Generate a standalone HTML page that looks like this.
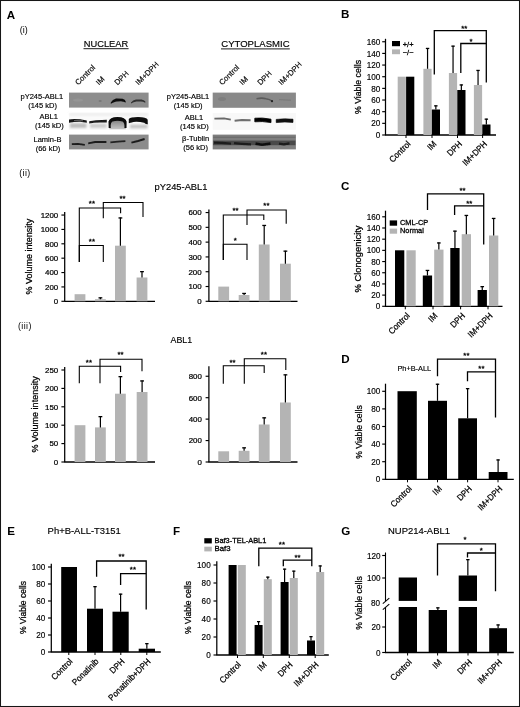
<!DOCTYPE html>
<html><head><meta charset="utf-8"><title>Figure</title>
<style>
html,body{margin:0;padding:0;background:#fff;}
body{width:520px;height:707px;overflow:hidden;font-family:"Liberation Sans",sans-serif;}
svg{display:block;font-family:"Liberation Sans",sans-serif;fill:#000;}
text{stroke:#000;stroke-width:0.16px;}
text[font-weight=bold]{stroke-width:0;}
</style></head><body>
<svg width="520" height="707" viewBox="0 0 520 707">
<defs>
<filter id="b1" x="-20%" y="-50%" width="140%" height="200%"><feGaussianBlur stdDeviation="0.7"/></filter>
<filter id="b2" x="-20%" y="-50%" width="140%" height="200%"><feGaussianBlur stdDeviation="1.2"/></filter>
<filter id="b05" x="-20%" y="-50%" width="140%" height="200%"><feGaussianBlur stdDeviation="0.45"/></filter>
<radialGradient id="blob" gradientUnits="userSpaceOnUse" cx="118.4" cy="126.4" r="10.5">
<stop offset="0" stop-color="#909090"/><stop offset="0.45" stop-color="#6c6c6c"/><stop offset="0.72" stop-color="#2a2a2a"/><stop offset="1" stop-color="#050505"/></radialGradient>
<linearGradient id="blobin" x1="0" y1="0" x2="0" y2="1">
<stop offset="0" stop-color="#6a6a6a"/><stop offset="0.5" stop-color="#9c9c9c"/><stop offset="1" stop-color="#c4c4c4"/></linearGradient>
<filter id="soft" x="0" y="0" width="100%" height="100%" filterUnits="userSpaceOnUse"><feGaussianBlur stdDeviation="0.32"/></filter>
</defs>
<rect x="0" y="0" width="520" height="707" fill="#fff"/>
<g id="fig" filter="url(#soft)">
<text x="6.80" y="19.00" font-size="11.6" text-anchor="start" font-weight="bold">A</text>
<text x="341.00" y="18.20" font-size="11.6" text-anchor="start" font-weight="bold">B</text>
<text x="341.00" y="190.20" font-size="11.6" text-anchor="start" font-weight="bold">C</text>
<text x="341.30" y="363.20" font-size="11.6" text-anchor="start" font-weight="bold">D</text>
<text x="7.30" y="535.20" font-size="11.6" text-anchor="start" font-weight="bold">E</text>
<text x="173.00" y="535.20" font-size="11.6" text-anchor="start" font-weight="bold">F</text>
<text x="341.30" y="535.20" font-size="11.6" text-anchor="start" font-weight="bold">G</text>
<text x="19.80" y="33.30" font-size="9" text-anchor="start" font-weight="normal" style="stroke-width:0">(i)</text>
<text x="19.30" y="176.20" font-size="8.8" text-anchor="start" font-weight="normal" style="stroke-width:0;letter-spacing:0.35px">(ii)</text>
<text x="18.00" y="329.00" font-size="8.8" text-anchor="start" font-weight="normal" style="stroke-width:0;letter-spacing:0.4px">(iii)</text>
<text x="106.00" y="46.80" font-size="9.4" text-anchor="middle" font-weight="normal" textLength="44.50" lengthAdjust="spacingAndGlyphs">NUCLEAR</text>
<line x1="83.50" y1="48.70" x2="128.60" y2="48.70" stroke="#000" stroke-width="0.9"/>
<text x="255.40" y="46.80" font-size="9.4" text-anchor="middle" font-weight="normal" textLength="68.30" lengthAdjust="spacingAndGlyphs">CYTOPLASMIC</text>
<line x1="221.00" y1="48.90" x2="289.80" y2="48.90" stroke="#000" stroke-width="0.9"/>
<text x="78.20" y="85.60" font-size="7.7" text-anchor="start" font-weight="normal" transform="rotate(-45 78.20 85.60)">Control</text>
<text x="99.00" y="85.60" font-size="7.7" text-anchor="start" font-weight="normal" transform="rotate(-45 99.00 85.60)">IM</text>
<text x="117.60" y="85.60" font-size="7.7" text-anchor="start" font-weight="normal" transform="rotate(-45 117.60 85.60)">DPH</text>
<text x="138.60" y="85.60" font-size="7.7" text-anchor="start" font-weight="normal" transform="rotate(-45 138.60 85.60)">IM+DPH</text>
<text x="222.20" y="85.60" font-size="7.7" text-anchor="start" font-weight="normal" transform="rotate(-45 222.20 85.60)">Control</text>
<text x="242.60" y="85.60" font-size="7.7" text-anchor="start" font-weight="normal" transform="rotate(-45 242.60 85.60)">IM</text>
<text x="260.60" y="85.60" font-size="7.7" text-anchor="start" font-weight="normal" transform="rotate(-45 260.60 85.60)">DPH</text>
<text x="281.60" y="85.60" font-size="7.7" text-anchor="start" font-weight="normal" transform="rotate(-45 281.60 85.60)">IM+DPH</text>
<text x="41.80" y="98.90" font-size="7.5" text-anchor="middle" font-weight="normal">pY245-ABL1</text>
<text x="42.60" y="107.80" font-size="7.5" text-anchor="middle" font-weight="normal">(145 kD)</text>
<text x="48.80" y="119.00" font-size="7.5" text-anchor="middle" font-weight="normal">ABL1</text>
<text x="49.40" y="128.40" font-size="7.5" text-anchor="middle" font-weight="normal">(145 kD)</text>
<text x="47.50" y="142.20" font-size="7.5" text-anchor="middle" font-weight="normal">Lamin-B</text>
<text x="48.00" y="151.40" font-size="7.5" text-anchor="middle" font-weight="normal">(66 kD)</text>
<text x="188.00" y="98.90" font-size="7.5" text-anchor="middle" font-weight="normal">pY245-ABL1</text>
<text x="188.20" y="107.80" font-size="7.5" text-anchor="middle" font-weight="normal">(145 kD)</text>
<text x="194.00" y="119.70" font-size="7.5" text-anchor="middle" font-weight="normal">ABL1</text>
<text x="194.40" y="129.00" font-size="7.5" text-anchor="middle" font-weight="normal">(145 kD)</text>
<text x="195.60" y="140.70" font-size="7.5" text-anchor="middle" font-weight="normal">β-Tublin</text>
<text x="195.60" y="149.80" font-size="7.5" text-anchor="middle" font-weight="normal">(56 kD)</text>
<g id="blotN">
<rect x="69.00" y="92.60" width="79.60" height="15.00" fill="#8d8d8d"/>
<g filter="url(#b1)">
<path d="M110.8,102.4 Q112.5,99.5 116,98.5 L122.6,98.7 Q125,99.4 125.8,101.4 L125.6,102.6 Q123.5,101.4 121,101.3 L116.4,101.4 Q113,102.0 110.8,103.8 Z" fill="#0c0c0c"/>
<path d="M131.0,102.4 Q133,100.0 136,99.5 L141.5,99.6 Q144,100.2 145.4,101.6 L145.2,102.8 Q143,101.6 141,101.5 L136.4,101.5 Q133.4,102.0 131.0,103.6 Z" fill="#303030"/>
<ellipse cx="100.2" cy="101" rx="1.6" ry="1" fill="#777"/>
<ellipse cx="78" cy="100" rx="5" ry="1.6" fill="#959595"/>
</g>
<rect x="69.00" y="113.00" width="79.60" height="17.00" fill="#fafafa"/>
<g filter="url(#b2)">
<rect x="70.00" y="123.20" width="16.50" height="4.80" fill="#bdbdbd"/>
<rect x="90.00" y="123.60" width="16.50" height="4.40" fill="#cccccc"/>
<rect x="130.00" y="124.60" width="17.50" height="3.80" fill="#c2c2c2"/>
<rect x="69.50" y="113.60" width="78.50" height="1.60" fill="#e6e6e6"/>
</g>
<g filter="url(#b1)">
<path d="M69.0,119.6 L74,118.9 L80,119.2 L86.8,120.4 L86.8,122.8 L80,121.8 L74,122.0 L69.0,122.8 Z" fill="#161616"/>
<path d="M74,120.6 L83,120.8" stroke="#6a6a6a" stroke-width="1.0" fill="none"/>
<path d="M89.2,121.2 L96,120.2 L102,119.9 L106.8,119.7 L106.8,122.4 L100,122.6 L94,122.7 L89.2,123.6 Z" fill="#1a1a1a"/>
<path d="M109.4,129.2 L109.4,121 Q110.6,118.0 117.5,117.8 Q124.8,117.8 125.8,121 L125.8,129.2 Z" fill="url(#blobin)"/>
<path d="M108.7,128.0 L108.5,121.5 Q109.6,117.1 117.5,116.9 Q125.6,117.0 126.6,121.5 L126.5,128.0 L124.4,128.0 Q124.9,123.0 122.6,121.6 Q117.5,119.9 112.4,121.6 Q110.2,123.0 110.8,128.0 Z" fill="#0a0a0a"/>
<path d="M128.8,119.0 Q130.6,117.2 138,117.1 Q146.4,117.3 147.7,119.8 L147.8,124.2 Q145.4,124.6 144.2,122.8 Q138.5,121.5 133.5,122.0 L128.8,123.2 Z" fill="#0b0b0b"/>
</g>
<rect x="69.00" y="134.60" width="79.60" height="14.80" fill="#8b8b8b"/>
<g filter="url(#b05)">
<path d="M71.8,144.2 L78,143.8 L84.8,144.8" stroke="#1c1c1c" stroke-width="1.8" fill="none"/>
<path d="M88.2,143.4 L95,142.0 L106.4,142.0" stroke="#1c1c1c" stroke-width="1.8" fill="none"/>
<path d="M110.4,142.4 L118,141.6 L125.4,141.2" stroke="#222" stroke-width="1.7" fill="none"/>
<path d="M131.4,142.6 L138,141.0 L144.6,139.0" stroke="#1c1c1c" stroke-width="1.9" fill="none"/>
</g>
</g>
<g id="blotC">
<rect x="212.70" y="92.60" width="83.20" height="15.20" fill="#898989"/>
<g filter="url(#b1)">
<path d="M256.5,98.8 Q262,97.4 266,98.8 Q270,99.4 271.8,101.0" stroke="#5c5c5c" stroke-width="1.6" fill="none"/>
<circle cx="272" cy="101.2" r="1.1" fill="#222"/>
<ellipse cx="222" cy="99" rx="4" ry="2" fill="#7e7e7e"/>
<path d="M279,99.6 L291,100.2" stroke="#7c7c7c" stroke-width="1.4" fill="none"/>
</g>
<rect x="212.70" y="113.00" width="83.20" height="16.80" fill="#f8f8f8"/>
<g filter="url(#b1)">
<path d="M214.4,118.6 L224,118.4 L230.8,119.6" stroke="#6a6a6a" stroke-width="1.9" fill="none"/>
<path d="M234.6,120.8 L242,120.0 L250.6,120.3" stroke="#6e6e6e" stroke-width="1.9" fill="none"/>
<path d="M254.8,118.2 Q262,117.4 271.0,119.2 L271.0,122.6 Q262,121.0 254.8,121.8 Z" fill="#050505" stroke="#050505" stroke-width="0.8"/>
<path d="M276.2,119.4 Q284,118.4 293.0,119.2 L293.0,122.4 Q284,121.6 276.2,122.6 Z" fill="#080808" stroke="#080808" stroke-width="0.6"/>
</g>
<rect x="212.70" y="134.60" width="83.20" height="14.80" fill="#7f7f7f"/>
<g filter="url(#b1)">
<rect x="213.20" y="140.60" width="82.20" height="4.60" fill="#484848"/>
<path d="M214,142.6 L222,142.8 L231,143.6" stroke="#1e1e1e" stroke-width="2.2" fill="none"/>
<path d="M234,143.2 L242,143.8 L251,144.4" stroke="#1e1e1e" stroke-width="2.2" fill="none"/>
<path d="M255.5,143.6 L262,144.8 L270.5,143.6" stroke="#111" stroke-width="2.6" fill="none"/>
<path d="M279,143.6 L284,144.4 L289.5,143.4" stroke="#1a1a1a" stroke-width="2.2" fill="none"/>
<rect x="213.20" y="136.60" width="82.20" height="1.40" fill="#6e6e6e"/>
</g>
</g>
<text x="181.00" y="190.30" font-size="9.4" text-anchor="middle" font-weight="normal" textLength="53.00" lengthAdjust="spacingAndGlyphs">pY245-ABL1</text>
<line x1="64.70" y1="212.00" x2="64.70" y2="301.30" stroke="#000" stroke-width="1.25"/>
<line x1="61.40" y1="301.30" x2="64.70" y2="301.30" stroke="#000" stroke-width="1.15"/>
<text x="58.20" y="304.14" font-size="7.9" text-anchor="end" font-weight="normal" style="stroke-width:0.24px">0</text>
<line x1="61.40" y1="286.93" x2="64.70" y2="286.93" stroke="#000" stroke-width="1.15"/>
<text x="58.20" y="289.77" font-size="7.9" text-anchor="end" font-weight="normal" style="stroke-width:0.24px">200</text>
<line x1="61.40" y1="272.55" x2="64.70" y2="272.55" stroke="#000" stroke-width="1.15"/>
<text x="58.20" y="275.39" font-size="7.9" text-anchor="end" font-weight="normal" style="stroke-width:0.24px">400</text>
<line x1="61.40" y1="258.18" x2="64.70" y2="258.18" stroke="#000" stroke-width="1.15"/>
<text x="58.20" y="261.02" font-size="7.9" text-anchor="end" font-weight="normal" style="stroke-width:0.24px">600</text>
<line x1="61.40" y1="243.80" x2="64.70" y2="243.80" stroke="#000" stroke-width="1.15"/>
<text x="58.20" y="246.64" font-size="7.9" text-anchor="end" font-weight="normal" style="stroke-width:0.24px">800</text>
<line x1="61.40" y1="229.43" x2="64.70" y2="229.43" stroke="#000" stroke-width="1.15"/>
<text x="58.20" y="232.27" font-size="7.9" text-anchor="end" font-weight="normal" style="stroke-width:0.24px">1000</text>
<line x1="61.40" y1="215.05" x2="64.70" y2="215.05" stroke="#000" stroke-width="1.15"/>
<text x="58.20" y="217.89" font-size="7.9" text-anchor="end" font-weight="normal" style="stroke-width:0.24px">1200</text>
<line x1="64.20" y1="301.30" x2="155.00" y2="301.30" stroke="#000" stroke-width="1.3"/>
<rect x="74.60" y="294.20" width="10.80" height="7.10" fill="#b4b4b4"/>
<rect x="95.00" y="299.20" width="10.80" height="2.10" fill="#b4b4b4"/>
<line x1="100.40" y1="299.20" x2="100.40" y2="297.40" stroke="#000" stroke-width="1.2"/>
<line x1="98.50" y1="297.85" x2="102.30" y2="297.85" stroke="#000" stroke-width="1.3"/>
<rect x="115.00" y="245.70" width="10.80" height="55.60" fill="#b4b4b4"/>
<line x1="120.40" y1="245.70" x2="120.40" y2="217.50" stroke="#000" stroke-width="1.2"/>
<line x1="118.50" y1="217.95" x2="122.30" y2="217.95" stroke="#000" stroke-width="1.3"/>
<rect x="136.60" y="277.50" width="10.80" height="23.80" fill="#b4b4b4"/>
<line x1="142.00" y1="277.50" x2="142.00" y2="271.20" stroke="#000" stroke-width="1.2"/>
<line x1="140.10" y1="271.65" x2="143.90" y2="271.65" stroke="#000" stroke-width="1.3"/>
<polyline points="79.30,262.00 79.30,208.00 120.60,208.00 120.60,213.30" fill="none" stroke="#000" stroke-width="1.1"/>
<polyline points="103.30,218.30 103.30,202.50 143.00,202.50 143.00,217.00" fill="none" stroke="#000" stroke-width="1.1"/>
<polyline points="79.30,262.00 79.30,245.50 103.30,245.50 103.30,262.00" fill="none" stroke="#000" stroke-width="1.1"/>
<text x="91.90" y="206.47" font-size="7.8" text-anchor="middle" font-weight="normal" style="stroke-width:0.3px">**</text>
<text x="122.60" y="201.47" font-size="7.8" text-anchor="middle" font-weight="normal" style="stroke-width:0.3px">**</text>
<text x="91.90" y="244.07" font-size="7.8" text-anchor="middle" font-weight="normal" style="stroke-width:0.3px">**</text>
<text x="32.11" y="256.60" font-size="8.7" text-anchor="middle" transform="rotate(-90 32.11 256.60)" textLength="75.80" lengthAdjust="spacingAndGlyphs" style="stroke-width:0.26px">% Volume intensity</text>
<line x1="208.90" y1="209.50" x2="208.90" y2="301.30" stroke="#000" stroke-width="1.25"/>
<line x1="205.60" y1="301.30" x2="208.90" y2="301.30" stroke="#000" stroke-width="1.15"/>
<text x="201.60" y="304.14" font-size="7.9" text-anchor="end" font-weight="normal" style="stroke-width:0.24px">0</text>
<line x1="205.60" y1="286.51" x2="208.90" y2="286.51" stroke="#000" stroke-width="1.15"/>
<text x="201.60" y="289.35" font-size="7.9" text-anchor="end" font-weight="normal" style="stroke-width:0.24px">100</text>
<line x1="205.60" y1="271.72" x2="208.90" y2="271.72" stroke="#000" stroke-width="1.15"/>
<text x="201.60" y="274.56" font-size="7.9" text-anchor="end" font-weight="normal" style="stroke-width:0.24px">200</text>
<line x1="205.60" y1="256.93" x2="208.90" y2="256.93" stroke="#000" stroke-width="1.15"/>
<text x="201.60" y="259.77" font-size="7.9" text-anchor="end" font-weight="normal" style="stroke-width:0.24px">300</text>
<line x1="205.60" y1="242.13" x2="208.90" y2="242.13" stroke="#000" stroke-width="1.15"/>
<text x="201.60" y="244.98" font-size="7.9" text-anchor="end" font-weight="normal" style="stroke-width:0.24px">400</text>
<line x1="205.60" y1="227.34" x2="208.90" y2="227.34" stroke="#000" stroke-width="1.15"/>
<text x="201.60" y="230.19" font-size="7.9" text-anchor="end" font-weight="normal" style="stroke-width:0.24px">500</text>
<line x1="205.60" y1="212.55" x2="208.90" y2="212.55" stroke="#000" stroke-width="1.15"/>
<text x="201.60" y="215.39" font-size="7.9" text-anchor="end" font-weight="normal" style="stroke-width:0.24px">600</text>
<line x1="208.40" y1="301.30" x2="297.50" y2="301.30" stroke="#000" stroke-width="1.3"/>
<rect x="218.30" y="286.60" width="10.80" height="14.70" fill="#b4b4b4"/>
<rect x="238.70" y="295.00" width="10.80" height="6.30" fill="#b4b4b4"/>
<line x1="244.10" y1="295.00" x2="244.10" y2="293.00" stroke="#000" stroke-width="1.2"/>
<line x1="242.20" y1="293.45" x2="246.00" y2="293.45" stroke="#000" stroke-width="1.3"/>
<rect x="258.80" y="244.50" width="10.80" height="56.80" fill="#b4b4b4"/>
<line x1="264.20" y1="244.50" x2="264.20" y2="225.00" stroke="#000" stroke-width="1.2"/>
<line x1="262.30" y1="225.45" x2="266.10" y2="225.45" stroke="#000" stroke-width="1.3"/>
<rect x="280.00" y="263.70" width="10.80" height="37.60" fill="#b4b4b4"/>
<line x1="285.40" y1="263.70" x2="285.40" y2="250.70" stroke="#000" stroke-width="1.2"/>
<line x1="283.50" y1="251.15" x2="287.30" y2="251.15" stroke="#000" stroke-width="1.3"/>
<polyline points="223.30,260.00 223.30,215.00 263.80,215.00 263.80,220.00" fill="none" stroke="#000" stroke-width="1.1"/>
<polyline points="247.00,225.00 247.00,210.00 286.20,210.00 286.20,223.70" fill="none" stroke="#000" stroke-width="1.1"/>
<polyline points="223.30,260.00 223.30,244.30 247.00,244.30 247.00,260.00" fill="none" stroke="#000" stroke-width="1.1"/>
<text x="235.60" y="213.47" font-size="7.8" text-anchor="middle" font-weight="normal" style="stroke-width:0.3px">**</text>
<text x="266.40" y="208.27" font-size="7.8" text-anchor="middle" font-weight="normal" style="stroke-width:0.3px">**</text>
<text x="235.20" y="242.67" font-size="7.8" text-anchor="middle" font-weight="normal" style="stroke-width:0.3px">*</text>
<text x="181.30" y="343.00" font-size="9.4" text-anchor="middle" font-weight="normal" textLength="21.60" lengthAdjust="spacingAndGlyphs">ABL1</text>
<line x1="64.70" y1="367.00" x2="64.70" y2="462.00" stroke="#000" stroke-width="1.25"/>
<line x1="61.40" y1="462.00" x2="64.70" y2="462.00" stroke="#000" stroke-width="1.15"/>
<text x="58.20" y="464.84" font-size="7.9" text-anchor="end" font-weight="normal" style="stroke-width:0.24px">0</text>
<line x1="61.40" y1="443.60" x2="64.70" y2="443.60" stroke="#000" stroke-width="1.15"/>
<text x="58.20" y="446.44" font-size="7.9" text-anchor="end" font-weight="normal" style="stroke-width:0.24px">50</text>
<line x1="61.40" y1="425.20" x2="64.70" y2="425.20" stroke="#000" stroke-width="1.15"/>
<text x="58.20" y="428.04" font-size="7.9" text-anchor="end" font-weight="normal" style="stroke-width:0.24px">100</text>
<line x1="61.40" y1="406.80" x2="64.70" y2="406.80" stroke="#000" stroke-width="1.15"/>
<text x="58.20" y="409.64" font-size="7.9" text-anchor="end" font-weight="normal" style="stroke-width:0.24px">150</text>
<line x1="61.40" y1="388.40" x2="64.70" y2="388.40" stroke="#000" stroke-width="1.15"/>
<text x="58.20" y="391.24" font-size="7.9" text-anchor="end" font-weight="normal" style="stroke-width:0.24px">200</text>
<line x1="61.40" y1="370.00" x2="64.70" y2="370.00" stroke="#000" stroke-width="1.15"/>
<text x="58.20" y="372.84" font-size="7.9" text-anchor="end" font-weight="normal" style="stroke-width:0.24px">250</text>
<line x1="64.20" y1="462.00" x2="155.00" y2="462.00" stroke="#000" stroke-width="1.3"/>
<rect x="74.60" y="425.20" width="10.80" height="36.80" fill="#b4b4b4"/>
<rect x="95.00" y="427.40" width="10.80" height="34.60" fill="#b4b4b4"/>
<line x1="100.40" y1="427.40" x2="100.40" y2="416.20" stroke="#000" stroke-width="1.2"/>
<line x1="98.50" y1="416.65" x2="102.30" y2="416.65" stroke="#000" stroke-width="1.3"/>
<rect x="115.00" y="393.70" width="10.80" height="68.30" fill="#b4b4b4"/>
<line x1="120.40" y1="393.70" x2="120.40" y2="376.20" stroke="#000" stroke-width="1.2"/>
<line x1="118.50" y1="376.65" x2="122.30" y2="376.65" stroke="#000" stroke-width="1.3"/>
<rect x="136.70" y="392.00" width="10.80" height="70.00" fill="#b4b4b4"/>
<line x1="142.10" y1="392.00" x2="142.10" y2="380.50" stroke="#000" stroke-width="1.2"/>
<line x1="140.20" y1="380.95" x2="144.00" y2="380.95" stroke="#000" stroke-width="1.3"/>
<polyline points="79.30,383.20 79.30,366.20 120.60,366.20 120.60,372.00" fill="none" stroke="#000" stroke-width="1.1"/>
<polyline points="100.00,383.20 100.00,359.20 142.00,359.20 142.00,371.20" fill="none" stroke="#000" stroke-width="1.1"/>
<text x="88.90" y="364.67" font-size="7.8" text-anchor="middle" font-weight="normal" style="stroke-width:0.3px">**</text>
<text x="120.60" y="357.27" font-size="7.8" text-anchor="middle" font-weight="normal" style="stroke-width:0.3px">**</text>
<text x="37.61" y="414.40" font-size="8.7" text-anchor="middle" transform="rotate(-90 37.61 414.40)" textLength="76.20" lengthAdjust="spacingAndGlyphs" style="stroke-width:0.26px">% Volume intensity</text>
<line x1="208.90" y1="366.20" x2="208.90" y2="462.00" stroke="#000" stroke-width="1.25"/>
<line x1="205.60" y1="462.00" x2="208.90" y2="462.00" stroke="#000" stroke-width="1.15"/>
<text x="201.80" y="464.84" font-size="7.9" text-anchor="end" font-weight="normal" style="stroke-width:0.24px">0</text>
<line x1="205.60" y1="440.56" x2="208.90" y2="440.56" stroke="#000" stroke-width="1.15"/>
<text x="201.80" y="443.41" font-size="7.9" text-anchor="end" font-weight="normal" style="stroke-width:0.24px">200</text>
<line x1="205.60" y1="419.12" x2="208.90" y2="419.12" stroke="#000" stroke-width="1.15"/>
<text x="201.80" y="421.97" font-size="7.9" text-anchor="end" font-weight="normal" style="stroke-width:0.24px">400</text>
<line x1="205.60" y1="397.69" x2="208.90" y2="397.69" stroke="#000" stroke-width="1.15"/>
<text x="201.80" y="400.53" font-size="7.9" text-anchor="end" font-weight="normal" style="stroke-width:0.24px">600</text>
<line x1="205.60" y1="376.25" x2="208.90" y2="376.25" stroke="#000" stroke-width="1.15"/>
<text x="201.80" y="379.09" font-size="7.9" text-anchor="end" font-weight="normal" style="stroke-width:0.24px">800</text>
<line x1="208.40" y1="462.00" x2="297.50" y2="462.00" stroke="#000" stroke-width="1.3"/>
<rect x="218.30" y="451.30" width="10.80" height="10.70" fill="#b4b4b4"/>
<rect x="238.70" y="450.80" width="10.80" height="11.20" fill="#b4b4b4"/>
<line x1="244.10" y1="450.80" x2="244.10" y2="447.40" stroke="#000" stroke-width="1.2"/>
<line x1="242.20" y1="447.85" x2="246.00" y2="447.85" stroke="#000" stroke-width="1.3"/>
<rect x="258.80" y="424.50" width="10.80" height="37.50" fill="#b4b4b4"/>
<line x1="264.20" y1="424.50" x2="264.20" y2="417.40" stroke="#000" stroke-width="1.2"/>
<line x1="262.30" y1="417.85" x2="266.10" y2="417.85" stroke="#000" stroke-width="1.3"/>
<rect x="280.00" y="402.50" width="10.80" height="59.50" fill="#b4b4b4"/>
<line x1="285.40" y1="402.50" x2="285.40" y2="374.40" stroke="#000" stroke-width="1.2"/>
<line x1="283.50" y1="374.85" x2="287.30" y2="374.85" stroke="#000" stroke-width="1.3"/>
<polyline points="223.30,383.70 223.30,365.80 264.20,365.80 264.20,373.00" fill="none" stroke="#000" stroke-width="1.1"/>
<polyline points="244.30,383.70 244.30,358.80 285.80,358.80 285.80,370.00" fill="none" stroke="#000" stroke-width="1.1"/>
<text x="232.60" y="364.67" font-size="7.8" text-anchor="middle" font-weight="normal" style="stroke-width:0.3px">**</text>
<text x="263.90" y="357.27" font-size="7.8" text-anchor="middle" font-weight="normal" style="stroke-width:0.3px">**</text>
<line x1="385.50" y1="38.80" x2="385.50" y2="135.00" stroke="#000" stroke-width="1.25"/>
<line x1="382.20" y1="135.00" x2="385.50" y2="135.00" stroke="#000" stroke-width="1.15"/>
<text transform="translate(380.30 138.12) scale(0.93 1)" font-size="8.8" text-anchor="end">0</text>
<line x1="382.20" y1="123.34" x2="385.50" y2="123.34" stroke="#000" stroke-width="1.15"/>
<text transform="translate(380.30 126.47) scale(0.93 1)" font-size="8.8" text-anchor="end">20</text>
<line x1="382.20" y1="111.69" x2="385.50" y2="111.69" stroke="#000" stroke-width="1.15"/>
<text transform="translate(380.30 114.81) scale(0.93 1)" font-size="8.8" text-anchor="end">40</text>
<line x1="382.20" y1="100.03" x2="385.50" y2="100.03" stroke="#000" stroke-width="1.15"/>
<text transform="translate(380.30 103.16) scale(0.93 1)" font-size="8.8" text-anchor="end">60</text>
<line x1="382.20" y1="88.38" x2="385.50" y2="88.38" stroke="#000" stroke-width="1.15"/>
<text transform="translate(380.30 91.50) scale(0.93 1)" font-size="8.8" text-anchor="end">80</text>
<line x1="382.20" y1="76.72" x2="385.50" y2="76.72" stroke="#000" stroke-width="1.15"/>
<text transform="translate(380.30 79.84) scale(0.93 1)" font-size="8.8" text-anchor="end">100</text>
<line x1="382.20" y1="65.06" x2="385.50" y2="65.06" stroke="#000" stroke-width="1.15"/>
<text transform="translate(380.30 68.19) scale(0.93 1)" font-size="8.8" text-anchor="end">120</text>
<line x1="382.20" y1="53.41" x2="385.50" y2="53.41" stroke="#000" stroke-width="1.15"/>
<text transform="translate(380.30 56.53) scale(0.93 1)" font-size="8.8" text-anchor="end">140</text>
<line x1="382.20" y1="41.75" x2="385.50" y2="41.75" stroke="#000" stroke-width="1.15"/>
<text transform="translate(380.30 44.87) scale(0.93 1)" font-size="8.8" text-anchor="end">160</text>
<line x1="385.00" y1="135.00" x2="496.00" y2="135.00" stroke="#000" stroke-width="1.3"/>
<line x1="406.00" y1="135.00" x2="406.00" y2="138.00" stroke="#000" stroke-width="1.0"/>
<line x1="432.00" y1="135.00" x2="432.00" y2="138.00" stroke="#000" stroke-width="1.0"/>
<line x1="457.50" y1="135.00" x2="457.50" y2="138.00" stroke="#000" stroke-width="1.0"/>
<line x1="482.60" y1="135.00" x2="482.60" y2="138.00" stroke="#000" stroke-width="1.0"/>
<rect x="397.70" y="76.70" width="8.20" height="58.30" fill="#b4b4b4"/>
<rect x="406.10" y="76.70" width="8.20" height="58.30" fill="#000"/>
<rect x="423.40" y="68.80" width="8.20" height="66.20" fill="#b4b4b4"/>
<rect x="431.80" y="109.50" width="8.20" height="25.50" fill="#000"/>
<line x1="427.55" y1="68.80" x2="427.55" y2="48.00" stroke="#000" stroke-width="1.2"/>
<line x1="425.85" y1="48.45" x2="429.25" y2="48.45" stroke="#000" stroke-width="1.3"/>
<line x1="435.85" y1="109.50" x2="435.85" y2="105.40" stroke="#000" stroke-width="1.2"/>
<line x1="434.15" y1="105.85" x2="437.55" y2="105.85" stroke="#000" stroke-width="1.3"/>
<rect x="448.90" y="73.00" width="8.20" height="62.00" fill="#b4b4b4"/>
<rect x="457.30" y="90.00" width="8.20" height="45.00" fill="#000"/>
<line x1="453.05" y1="73.00" x2="453.05" y2="45.70" stroke="#000" stroke-width="1.2"/>
<line x1="451.35" y1="46.15" x2="454.75" y2="46.15" stroke="#000" stroke-width="1.3"/>
<line x1="461.35" y1="90.00" x2="461.35" y2="84.50" stroke="#000" stroke-width="1.2"/>
<line x1="459.65" y1="84.95" x2="463.05" y2="84.95" stroke="#000" stroke-width="1.3"/>
<rect x="473.90" y="85.00" width="8.20" height="50.00" fill="#b4b4b4"/>
<rect x="482.30" y="124.50" width="8.20" height="10.50" fill="#000"/>
<line x1="478.05" y1="85.00" x2="478.05" y2="70.00" stroke="#000" stroke-width="1.2"/>
<line x1="476.35" y1="70.45" x2="479.75" y2="70.45" stroke="#000" stroke-width="1.3"/>
<line x1="486.35" y1="124.50" x2="486.35" y2="118.70" stroke="#000" stroke-width="1.2"/>
<line x1="484.65" y1="119.15" x2="488.05" y2="119.15" stroke="#000" stroke-width="1.3"/>
<polyline points="434.30,74.50 434.30,30.70 486.30,30.70 486.30,82.50" fill="none" stroke="#000" stroke-width="1.3"/>
<polyline points="460.80,73.00 460.80,43.50 486.30,43.50 486.30,43.50" fill="none" stroke="#000" stroke-width="1.3"/>
<text x="464.30" y="31.07" font-size="7.8" text-anchor="middle" font-weight="normal" style="stroke-width:0.3px">**</text>
<text x="471.00" y="44.07" font-size="7.8" text-anchor="middle" font-weight="normal" style="stroke-width:0.3px">*</text>
<rect x="392.00" y="41.00" width="8.00" height="5.20" fill="#000"/>
<rect x="392.00" y="49.40" width="8.00" height="4.80" fill="#b4b4b4"/>
<text x="402.80" y="46.80" font-size="7.4" text-anchor="start" font-weight="normal" style="stroke-width:0.3px">+/+</text>
<text x="402.80" y="54.60" font-size="7.4" text-anchor="start" font-weight="normal" style="stroke-width:0.3px">−/−</text>
<text transform="translate(411.10 144.50) rotate(-45) scale(0.93 1)" font-size="8.7" text-anchor="end" style="stroke-width:0.24px">Control</text>
<text transform="translate(437.10 144.50) rotate(-45) scale(0.93 1)" font-size="8.7" text-anchor="end" style="stroke-width:0.24px">IM</text>
<text transform="translate(462.60 144.50) rotate(-45) scale(0.93 1)" font-size="8.7" text-anchor="end" style="stroke-width:0.24px">DPH</text>
<text transform="translate(487.70 144.50) rotate(-45) scale(0.93 1)" font-size="8.7" text-anchor="end" style="stroke-width:0.24px">IM+DPH</text>
<text x="360.61" y="87.00" font-size="8.7" text-anchor="middle" transform="rotate(-90 360.61 87.00)" textLength="54.00" lengthAdjust="spacingAndGlyphs" style="stroke-width:0.26px">% Viable cells</text>
<line x1="385.50" y1="210.70" x2="385.50" y2="306.30" stroke="#000" stroke-width="1.25"/>
<line x1="382.20" y1="306.30" x2="385.50" y2="306.30" stroke="#000" stroke-width="1.15"/>
<text transform="translate(380.30 309.42) scale(0.93 1)" font-size="8.8" text-anchor="end">0</text>
<line x1="382.20" y1="295.11" x2="385.50" y2="295.11" stroke="#000" stroke-width="1.15"/>
<text transform="translate(380.30 298.24) scale(0.93 1)" font-size="8.8" text-anchor="end">20</text>
<line x1="382.20" y1="283.93" x2="385.50" y2="283.93" stroke="#000" stroke-width="1.15"/>
<text transform="translate(380.30 287.05) scale(0.93 1)" font-size="8.8" text-anchor="end">40</text>
<line x1="382.20" y1="272.74" x2="385.50" y2="272.74" stroke="#000" stroke-width="1.15"/>
<text transform="translate(380.30 275.86) scale(0.93 1)" font-size="8.8" text-anchor="end">60</text>
<line x1="382.20" y1="261.55" x2="385.50" y2="261.55" stroke="#000" stroke-width="1.15"/>
<text transform="translate(380.30 264.67) scale(0.93 1)" font-size="8.8" text-anchor="end">80</text>
<line x1="382.20" y1="250.36" x2="385.50" y2="250.36" stroke="#000" stroke-width="1.15"/>
<text transform="translate(380.30 253.49) scale(0.93 1)" font-size="8.8" text-anchor="end">100</text>
<line x1="382.20" y1="239.18" x2="385.50" y2="239.18" stroke="#000" stroke-width="1.15"/>
<text transform="translate(380.30 242.30) scale(0.93 1)" font-size="8.8" text-anchor="end">120</text>
<line x1="382.20" y1="227.99" x2="385.50" y2="227.99" stroke="#000" stroke-width="1.15"/>
<text transform="translate(380.30 231.11) scale(0.93 1)" font-size="8.8" text-anchor="end">140</text>
<line x1="382.20" y1="216.80" x2="385.50" y2="216.80" stroke="#000" stroke-width="1.15"/>
<text transform="translate(380.30 219.92) scale(0.93 1)" font-size="8.8" text-anchor="end">160</text>
<line x1="385.00" y1="306.30" x2="502.50" y2="306.30" stroke="#000" stroke-width="1.3"/>
<line x1="405.30" y1="306.30" x2="405.30" y2="309.30" stroke="#000" stroke-width="1.0"/>
<line x1="433.00" y1="306.30" x2="433.00" y2="309.30" stroke="#000" stroke-width="1.0"/>
<line x1="460.60" y1="306.30" x2="460.60" y2="309.30" stroke="#000" stroke-width="1.0"/>
<line x1="488.00" y1="306.30" x2="488.00" y2="309.30" stroke="#000" stroke-width="1.0"/>
<rect x="395.00" y="250.30" width="9.30" height="56.00" fill="#000"/>
<rect x="406.40" y="250.30" width="9.30" height="56.00" fill="#b4b4b4"/>
<rect x="422.80" y="275.50" width="9.30" height="30.80" fill="#000"/>
<rect x="434.20" y="249.60" width="9.30" height="56.70" fill="#b4b4b4"/>
<line x1="427.45" y1="275.50" x2="427.45" y2="270.00" stroke="#000" stroke-width="1.2"/>
<line x1="425.65" y1="270.45" x2="429.25" y2="270.45" stroke="#000" stroke-width="1.3"/>
<line x1="438.85" y1="249.60" x2="438.85" y2="242.50" stroke="#000" stroke-width="1.2"/>
<line x1="437.05" y1="242.95" x2="440.65" y2="242.95" stroke="#000" stroke-width="1.3"/>
<rect x="450.30" y="248.00" width="9.30" height="58.30" fill="#000"/>
<rect x="461.70" y="234.20" width="9.30" height="72.10" fill="#b4b4b4"/>
<line x1="454.95" y1="248.00" x2="454.95" y2="230.70" stroke="#000" stroke-width="1.2"/>
<line x1="453.15" y1="231.15" x2="456.75" y2="231.15" stroke="#000" stroke-width="1.3"/>
<line x1="466.35" y1="234.20" x2="466.35" y2="215.00" stroke="#000" stroke-width="1.2"/>
<line x1="464.55" y1="215.45" x2="468.15" y2="215.45" stroke="#000" stroke-width="1.3"/>
<rect x="477.60" y="290.00" width="9.30" height="16.30" fill="#000"/>
<rect x="489.00" y="235.50" width="9.30" height="70.80" fill="#b4b4b4"/>
<line x1="482.25" y1="290.00" x2="482.25" y2="286.20" stroke="#000" stroke-width="1.2"/>
<line x1="480.45" y1="286.65" x2="484.05" y2="286.65" stroke="#000" stroke-width="1.3"/>
<line x1="493.65" y1="235.50" x2="493.65" y2="218.00" stroke="#000" stroke-width="1.2"/>
<line x1="491.85" y1="218.45" x2="495.45" y2="218.45" stroke="#000" stroke-width="1.3"/>
<polyline points="427.50,210.00 427.50,193.80 483.70,193.80 483.70,244.50" fill="none" stroke="#000" stroke-width="1.3"/>
<polyline points="454.60,215.00 454.60,205.80 483.70,205.80 483.70,205.80" fill="none" stroke="#000" stroke-width="1.3"/>
<text x="462.60" y="192.77" font-size="7.8" text-anchor="middle" font-weight="normal" style="stroke-width:0.3px">**</text>
<text x="469.20" y="205.77" font-size="7.8" text-anchor="middle" font-weight="normal" style="stroke-width:0.3px">**</text>
<rect x="389.70" y="220.40" width="7.40" height="5.30" fill="#000"/>
<rect x="389.70" y="228.60" width="7.40" height="5.10" fill="#b4b4b4"/>
<text x="400.00" y="225.40" font-size="7.4" text-anchor="start" font-weight="normal" textLength="28.20" lengthAdjust="spacingAndGlyphs" style="stroke-width:0.3px">CML-CP</text>
<text x="400.00" y="233.40" font-size="7.4" text-anchor="start" font-weight="normal" textLength="23.80" lengthAdjust="spacingAndGlyphs" style="stroke-width:0.3px">Normal</text>
<text transform="translate(410.40 316.30) rotate(-45) scale(0.93 1)" font-size="8.7" text-anchor="end" style="stroke-width:0.24px">Control</text>
<text transform="translate(438.10 316.30) rotate(-45) scale(0.93 1)" font-size="8.7" text-anchor="end" style="stroke-width:0.24px">IM</text>
<text transform="translate(465.70 316.30) rotate(-45) scale(0.93 1)" font-size="8.7" text-anchor="end" style="stroke-width:0.24px">DPH</text>
<text transform="translate(493.10 316.30) rotate(-45) scale(0.93 1)" font-size="8.7" text-anchor="end" style="stroke-width:0.24px">IM+DPH</text>
<text x="360.91" y="259.00" font-size="8.7" text-anchor="middle" transform="rotate(-90 360.91 259.00)" textLength="67.00" lengthAdjust="spacingAndGlyphs" style="stroke-width:0.26px">% Clonogenicity</text>
<line x1="385.50" y1="383.70" x2="385.50" y2="479.30" stroke="#000" stroke-width="1.25"/>
<line x1="382.20" y1="479.30" x2="385.50" y2="479.30" stroke="#000" stroke-width="1.15"/>
<text transform="translate(380.30 482.42) scale(0.93 1)" font-size="8.8" text-anchor="end">0</text>
<line x1="382.20" y1="461.70" x2="385.50" y2="461.70" stroke="#000" stroke-width="1.15"/>
<text transform="translate(380.30 464.82) scale(0.93 1)" font-size="8.8" text-anchor="end">20</text>
<line x1="382.20" y1="444.10" x2="385.50" y2="444.10" stroke="#000" stroke-width="1.15"/>
<text transform="translate(380.30 447.22) scale(0.93 1)" font-size="8.8" text-anchor="end">40</text>
<line x1="382.20" y1="426.50" x2="385.50" y2="426.50" stroke="#000" stroke-width="1.15"/>
<text transform="translate(380.30 429.62) scale(0.93 1)" font-size="8.8" text-anchor="end">60</text>
<line x1="382.20" y1="408.90" x2="385.50" y2="408.90" stroke="#000" stroke-width="1.15"/>
<text transform="translate(380.30 412.02) scale(0.93 1)" font-size="8.8" text-anchor="end">80</text>
<line x1="382.20" y1="391.30" x2="385.50" y2="391.30" stroke="#000" stroke-width="1.15"/>
<text transform="translate(380.30 394.42) scale(0.93 1)" font-size="8.8" text-anchor="end">100</text>
<line x1="385.00" y1="479.30" x2="513.80" y2="479.30" stroke="#000" stroke-width="1.3"/>
<line x1="407.50" y1="479.30" x2="407.50" y2="482.30" stroke="#000" stroke-width="1.0"/>
<line x1="437.50" y1="479.30" x2="437.50" y2="482.30" stroke="#000" stroke-width="1.0"/>
<line x1="467.60" y1="479.30" x2="467.60" y2="482.30" stroke="#000" stroke-width="1.0"/>
<line x1="498.00" y1="479.30" x2="498.00" y2="482.30" stroke="#000" stroke-width="1.0"/>
<rect x="397.50" y="391.20" width="19.30" height="88.10" fill="#000"/>
<rect x="428.00" y="400.80" width="19.00" height="78.50" fill="#000"/>
<line x1="437.50" y1="400.80" x2="437.50" y2="383.80" stroke="#000" stroke-width="1.2"/>
<line x1="435.80" y1="384.25" x2="439.20" y2="384.25" stroke="#000" stroke-width="1.3"/>
<rect x="458.20" y="418.30" width="18.80" height="61.00" fill="#000"/>
<line x1="467.60" y1="418.30" x2="467.60" y2="388.20" stroke="#000" stroke-width="1.2"/>
<line x1="465.90" y1="388.65" x2="469.30" y2="388.65" stroke="#000" stroke-width="1.3"/>
<rect x="488.70" y="472.00" width="18.80" height="7.30" fill="#000"/>
<line x1="498.10" y1="472.00" x2="498.10" y2="459.50" stroke="#000" stroke-width="1.2"/>
<line x1="496.40" y1="459.95" x2="499.80" y2="459.95" stroke="#000" stroke-width="1.3"/>
<polyline points="437.50,376.20 437.50,359.20 495.50,359.20 495.50,417.50" fill="none" stroke="#000" stroke-width="1.3"/>
<polyline points="467.50,381.20 467.50,371.80 495.50,371.80 495.50,371.80" fill="none" stroke="#000" stroke-width="1.3"/>
<text x="466.40" y="358.27" font-size="7.8" text-anchor="middle" font-weight="normal" style="stroke-width:0.3px">**</text>
<text x="481.40" y="371.07" font-size="7.8" text-anchor="middle" font-weight="normal" style="stroke-width:0.3px">**</text>
<text x="397.40" y="371.30" font-size="7.4" text-anchor="start" font-weight="normal" textLength="33.80" lengthAdjust="spacingAndGlyphs">Ph+B-ALL</text>
<text transform="translate(412.40 489.30) rotate(-45) scale(0.93 1)" font-size="8.7" text-anchor="end" style="stroke-width:0.24px">Control</text>
<text transform="translate(442.40 489.30) rotate(-45) scale(0.93 1)" font-size="8.7" text-anchor="end" style="stroke-width:0.24px">IM</text>
<text transform="translate(472.50 489.30) rotate(-45) scale(0.93 1)" font-size="8.7" text-anchor="end" style="stroke-width:0.24px">DPH</text>
<text transform="translate(502.90 489.30) rotate(-45) scale(0.93 1)" font-size="8.7" text-anchor="end" style="stroke-width:0.24px">IM+DPH</text>
<text x="361.61" y="432.00" font-size="8.7" text-anchor="middle" transform="rotate(-90 361.61 432.00)" textLength="53.50" lengthAdjust="spacingAndGlyphs" style="stroke-width:0.26px">% Viable cells</text>
<text x="84.20" y="534.40" font-size="9.4" text-anchor="middle" font-weight="normal" textLength="73.20" lengthAdjust="spacingAndGlyphs">Ph+B-ALL-T3151</text>
<line x1="51.30" y1="563.70" x2="51.30" y2="652.00" stroke="#000" stroke-width="1.25"/>
<line x1="48.00" y1="652.00" x2="51.30" y2="652.00" stroke="#000" stroke-width="1.15"/>
<text transform="translate(45.30 655.12) scale(0.93 1)" font-size="8.8" text-anchor="end">0</text>
<line x1="48.00" y1="635.00" x2="51.30" y2="635.00" stroke="#000" stroke-width="1.15"/>
<text transform="translate(45.30 638.12) scale(0.93 1)" font-size="8.8" text-anchor="end">20</text>
<line x1="48.00" y1="618.00" x2="51.30" y2="618.00" stroke="#000" stroke-width="1.15"/>
<text transform="translate(45.30 621.12) scale(0.93 1)" font-size="8.8" text-anchor="end">40</text>
<line x1="48.00" y1="601.00" x2="51.30" y2="601.00" stroke="#000" stroke-width="1.15"/>
<text transform="translate(45.30 604.12) scale(0.93 1)" font-size="8.8" text-anchor="end">60</text>
<line x1="48.00" y1="584.00" x2="51.30" y2="584.00" stroke="#000" stroke-width="1.15"/>
<text transform="translate(45.30 587.12) scale(0.93 1)" font-size="8.8" text-anchor="end">80</text>
<line x1="48.00" y1="567.00" x2="51.30" y2="567.00" stroke="#000" stroke-width="1.15"/>
<text transform="translate(45.30 570.12) scale(0.93 1)" font-size="8.8" text-anchor="end">100</text>
<line x1="50.80" y1="652.00" x2="160.80" y2="652.00" stroke="#000" stroke-width="1.3"/>
<line x1="68.80" y1="652.00" x2="68.80" y2="655.00" stroke="#000" stroke-width="1.0"/>
<line x1="95.00" y1="652.00" x2="95.00" y2="655.00" stroke="#000" stroke-width="1.0"/>
<line x1="120.80" y1="652.00" x2="120.80" y2="655.00" stroke="#000" stroke-width="1.0"/>
<line x1="146.80" y1="652.00" x2="146.80" y2="655.00" stroke="#000" stroke-width="1.0"/>
<rect x="61.20" y="567.00" width="15.80" height="85.00" fill="#000"/>
<rect x="87.00" y="608.70" width="16.00" height="43.30" fill="#000"/>
<line x1="95.00" y1="608.70" x2="95.00" y2="586.20" stroke="#000" stroke-width="1.2"/>
<line x1="93.30" y1="586.65" x2="96.70" y2="586.65" stroke="#000" stroke-width="1.3"/>
<rect x="112.50" y="611.70" width="16.20" height="40.30" fill="#000"/>
<line x1="120.60" y1="611.70" x2="120.60" y2="593.70" stroke="#000" stroke-width="1.2"/>
<line x1="118.90" y1="594.15" x2="122.30" y2="594.15" stroke="#000" stroke-width="1.3"/>
<rect x="138.70" y="648.70" width="16.30" height="3.30" fill="#000"/>
<line x1="146.85" y1="648.70" x2="146.85" y2="643.20" stroke="#000" stroke-width="1.2"/>
<line x1="145.15" y1="643.65" x2="148.55" y2="643.65" stroke="#000" stroke-width="1.3"/>
<polyline points="96.60,576.80 96.60,561.00 146.20,561.00 146.20,609.50" fill="none" stroke="#000" stroke-width="1.3"/>
<polyline points="120.60,585.00 120.60,573.60 146.20,573.60 146.20,573.60" fill="none" stroke="#000" stroke-width="1.3"/>
<text x="121.60" y="559.27" font-size="7.8" text-anchor="middle" font-weight="normal" style="stroke-width:0.3px">**</text>
<text x="132.90" y="572.27" font-size="7.8" text-anchor="middle" font-weight="normal" style="stroke-width:0.3px">**</text>
<text transform="translate(73.10 662.00) rotate(-45) scale(0.93 1)" font-size="8.7" text-anchor="end" style="stroke-width:0.24px">Control</text>
<text transform="translate(99.30 662.00) rotate(-45) scale(0.93 1)" font-size="8.7" text-anchor="end" style="stroke-width:0.24px">Ponatinib</text>
<text transform="translate(125.10 662.00) rotate(-45) scale(0.93 1)" font-size="8.7" text-anchor="end" style="stroke-width:0.24px">DPH</text>
<text transform="translate(151.10 662.00) rotate(-45) scale(0.93 1)" font-size="8.7" text-anchor="end" style="stroke-width:0.24px">Ponatinib+DPH</text>
<text x="26.31" y="607.50" font-size="8.7" text-anchor="middle" transform="rotate(-90 26.31 607.50)" textLength="53.00" lengthAdjust="spacingAndGlyphs" style="stroke-width:0.26px">% Viable cells</text>
<line x1="216.80" y1="561.20" x2="216.80" y2="655.00" stroke="#000" stroke-width="1.25"/>
<line x1="213.50" y1="655.00" x2="216.80" y2="655.00" stroke="#000" stroke-width="1.15"/>
<text transform="translate(210.70 658.12) scale(0.93 1)" font-size="8.8" text-anchor="end">0</text>
<line x1="213.50" y1="637.00" x2="216.80" y2="637.00" stroke="#000" stroke-width="1.15"/>
<text transform="translate(210.70 640.12) scale(0.93 1)" font-size="8.8" text-anchor="end">20</text>
<line x1="213.50" y1="619.00" x2="216.80" y2="619.00" stroke="#000" stroke-width="1.15"/>
<text transform="translate(210.70 622.12) scale(0.93 1)" font-size="8.8" text-anchor="end">40</text>
<line x1="213.50" y1="601.00" x2="216.80" y2="601.00" stroke="#000" stroke-width="1.15"/>
<text transform="translate(210.70 604.12) scale(0.93 1)" font-size="8.8" text-anchor="end">60</text>
<line x1="213.50" y1="583.00" x2="216.80" y2="583.00" stroke="#000" stroke-width="1.15"/>
<text transform="translate(210.70 586.12) scale(0.93 1)" font-size="8.8" text-anchor="end">80</text>
<line x1="213.50" y1="565.00" x2="216.80" y2="565.00" stroke="#000" stroke-width="1.15"/>
<text transform="translate(210.70 568.12) scale(0.93 1)" font-size="8.8" text-anchor="end">100</text>
<line x1="216.30" y1="655.00" x2="328.80" y2="655.00" stroke="#000" stroke-width="1.3"/>
<line x1="237.50" y1="655.00" x2="237.50" y2="658.00" stroke="#000" stroke-width="1.0"/>
<line x1="263.30" y1="655.00" x2="263.30" y2="658.00" stroke="#000" stroke-width="1.0"/>
<line x1="289.30" y1="655.00" x2="289.30" y2="658.00" stroke="#000" stroke-width="1.0"/>
<line x1="315.20" y1="655.00" x2="315.20" y2="658.00" stroke="#000" stroke-width="1.0"/>
<rect x="228.60" y="565.00" width="8.00" height="90.00" fill="#000"/>
<rect x="237.80" y="565.00" width="8.00" height="90.00" fill="#b4b4b4"/>
<rect x="254.60" y="625.00" width="8.00" height="30.00" fill="#000"/>
<rect x="263.80" y="579.20" width="8.00" height="75.80" fill="#b4b4b4"/>
<line x1="258.60" y1="625.00" x2="258.60" y2="621.20" stroke="#000" stroke-width="1.2"/>
<line x1="257.00" y1="621.65" x2="260.20" y2="621.65" stroke="#000" stroke-width="1.3"/>
<line x1="267.80" y1="579.20" x2="267.80" y2="576.70" stroke="#000" stroke-width="1.2"/>
<line x1="266.20" y1="577.15" x2="269.40" y2="577.15" stroke="#000" stroke-width="1.3"/>
<rect x="280.60" y="582.00" width="8.00" height="73.00" fill="#000"/>
<rect x="289.80" y="578.00" width="8.00" height="77.00" fill="#b4b4b4"/>
<line x1="284.60" y1="582.00" x2="284.60" y2="568.70" stroke="#000" stroke-width="1.2"/>
<line x1="283.00" y1="569.15" x2="286.20" y2="569.15" stroke="#000" stroke-width="1.3"/>
<line x1="293.80" y1="578.00" x2="293.80" y2="570.70" stroke="#000" stroke-width="1.2"/>
<line x1="292.20" y1="571.15" x2="295.40" y2="571.15" stroke="#000" stroke-width="1.3"/>
<rect x="307.00" y="640.50" width="8.00" height="14.50" fill="#000"/>
<rect x="316.20" y="572.00" width="8.00" height="83.00" fill="#b4b4b4"/>
<line x1="311.00" y1="640.50" x2="311.00" y2="636.20" stroke="#000" stroke-width="1.2"/>
<line x1="309.40" y1="636.65" x2="312.60" y2="636.65" stroke="#000" stroke-width="1.3"/>
<line x1="320.20" y1="572.00" x2="320.20" y2="565.50" stroke="#000" stroke-width="1.2"/>
<line x1="318.60" y1="565.95" x2="321.80" y2="565.95" stroke="#000" stroke-width="1.3"/>
<polyline points="258.80,566.20 258.80,548.20 311.80,548.20 311.80,566.20" fill="none" stroke="#000" stroke-width="1.3"/>
<polyline points="283.30,566.20 283.30,560.20 311.80,560.20 311.80,560.20" fill="none" stroke="#000" stroke-width="1.3"/>
<text x="281.90" y="546.57" font-size="7.8" text-anchor="middle" font-weight="normal" style="stroke-width:0.3px">**</text>
<text x="297.50" y="559.57" font-size="7.8" text-anchor="middle" font-weight="normal" style="stroke-width:0.3px">**</text>
<rect x="204.30" y="538.20" width="7.50" height="5.20" fill="#000"/>
<rect x="204.30" y="546.70" width="7.50" height="4.70" fill="#b4b4b4"/>
<text x="214.50" y="542.90" font-size="7.4" text-anchor="start" font-weight="normal" textLength="51.80" lengthAdjust="spacingAndGlyphs" style="stroke-width:0.3px">Baf3-TEL-ABL1</text>
<text x="214.50" y="551.10" font-size="7.4" text-anchor="start" font-weight="normal" textLength="16.00" lengthAdjust="spacingAndGlyphs" style="stroke-width:0.3px">Baf3</text>
<text transform="translate(241.40 665.30) rotate(-45) scale(0.93 1)" font-size="8.7" text-anchor="end" style="stroke-width:0.24px">Control</text>
<text transform="translate(267.20 665.30) rotate(-45) scale(0.93 1)" font-size="8.7" text-anchor="end" style="stroke-width:0.24px">IM</text>
<text transform="translate(293.20 665.30) rotate(-45) scale(0.93 1)" font-size="8.7" text-anchor="end" style="stroke-width:0.24px">DPH</text>
<text transform="translate(319.10 665.30) rotate(-45) scale(0.93 1)" font-size="8.7" text-anchor="end" style="stroke-width:0.24px">IM+DPH</text>
<text x="191.31" y="607.50" font-size="8.7" text-anchor="middle" transform="rotate(-90 191.31 607.50)" textLength="53.00" lengthAdjust="spacingAndGlyphs" style="stroke-width:0.26px">% Viable cells</text>
<text x="419.00" y="534.40" font-size="9.4" text-anchor="middle" font-weight="normal" textLength="62.00" lengthAdjust="spacingAndGlyphs">NUP214-ABL1</text>
<line x1="385.50" y1="552.50" x2="385.50" y2="601.20" stroke="#000" stroke-width="1.1"/>
<line x1="385.50" y1="607.20" x2="385.50" y2="652.50" stroke="#000" stroke-width="1.1"/>
<line x1="382.20" y1="555.50" x2="385.50" y2="555.50" stroke="#000" stroke-width="1.15"/>
<text transform="translate(380.60 558.62) scale(0.93 1)" font-size="8.8" text-anchor="end">120</text>
<line x1="382.20" y1="578.00" x2="385.50" y2="578.00" stroke="#000" stroke-width="1.15"/>
<text transform="translate(380.60 581.12) scale(0.93 1)" font-size="8.8" text-anchor="end">100</text>
<text transform="translate(380.00 606.02) scale(0.93 1)" font-size="8.8" text-anchor="end">80</text>
<line x1="382.20" y1="627.00" x2="385.50" y2="627.00" stroke="#000" stroke-width="1.15"/>
<text transform="translate(380.60 630.12) scale(0.93 1)" font-size="8.8" text-anchor="end">20</text>
<line x1="382.20" y1="652.50" x2="385.50" y2="652.50" stroke="#000" stroke-width="1.15"/>
<text transform="translate(380.60 655.62) scale(0.93 1)" font-size="8.8" text-anchor="end">0</text>
<line x1="382.80" y1="603.60" x2="389.30" y2="598.20" stroke="#000" stroke-width="1.1"/>
<line x1="382.80" y1="609.60" x2="389.30" y2="604.20" stroke="#000" stroke-width="1.1"/>
<line x1="385.00" y1="652.50" x2="513.80" y2="652.50" stroke="#000" stroke-width="1.3"/>
<line x1="407.60" y1="652.50" x2="407.60" y2="655.50" stroke="#000" stroke-width="1.0"/>
<line x1="437.60" y1="652.50" x2="437.60" y2="655.50" stroke="#000" stroke-width="1.0"/>
<line x1="468.00" y1="652.50" x2="468.00" y2="655.50" stroke="#000" stroke-width="1.0"/>
<line x1="498.00" y1="652.50" x2="498.00" y2="655.50" stroke="#000" stroke-width="1.0"/>
<rect x="398.70" y="577.50" width="18.30" height="23.40" fill="#000"/>
<rect x="398.70" y="607.00" width="18.30" height="45.50" fill="#000"/>
<rect x="428.70" y="610.00" width="18.30" height="42.50" fill="#000"/>
<line x1="437.85" y1="610.00" x2="437.85" y2="607.40" stroke="#000" stroke-width="1.2"/>
<line x1="436.15" y1="607.85" x2="439.55" y2="607.85" stroke="#000" stroke-width="1.3"/>
<rect x="458.70" y="575.50" width="18.30" height="25.40" fill="#000"/>
<rect x="458.70" y="607.00" width="18.30" height="45.50" fill="#000"/>
<line x1="467.85" y1="575.50" x2="467.85" y2="559.20" stroke="#000" stroke-width="1.2"/>
<line x1="466.15" y1="559.65" x2="469.55" y2="559.65" stroke="#000" stroke-width="1.3"/>
<rect x="489.20" y="628.20" width="17.80" height="24.30" fill="#000"/>
<line x1="498.10" y1="628.20" x2="498.10" y2="624.50" stroke="#000" stroke-width="1.2"/>
<line x1="496.40" y1="624.95" x2="499.80" y2="624.95" stroke="#000" stroke-width="1.3"/>
<polyline points="437.50,575.50 437.50,543.80 495.50,543.80 495.50,591.20" fill="none" stroke="#000" stroke-width="1.3"/>
<polyline points="467.50,557.50 467.50,553.00 495.50,553.00 495.50,553.00" fill="none" stroke="#000" stroke-width="1.3"/>
<text x="465.00" y="542.27" font-size="7.8" text-anchor="middle" font-weight="normal" style="stroke-width:0.3px">*</text>
<text x="481.30" y="552.77" font-size="7.8" text-anchor="middle" font-weight="normal" style="stroke-width:0.3px">*</text>
<text transform="translate(412.30 662.80) rotate(-45) scale(0.93 1)" font-size="8.7" text-anchor="end" style="stroke-width:0.24px">Control</text>
<text transform="translate(442.30 662.80) rotate(-45) scale(0.93 1)" font-size="8.7" text-anchor="end" style="stroke-width:0.24px">IM</text>
<text transform="translate(472.70 662.80) rotate(-45) scale(0.93 1)" font-size="8.7" text-anchor="end" style="stroke-width:0.24px">DPH</text>
<text transform="translate(502.70 662.80) rotate(-45) scale(0.93 1)" font-size="8.7" text-anchor="end" style="stroke-width:0.24px">IM+DPH</text>
<text x="361.61" y="603.00" font-size="8.7" text-anchor="middle" transform="rotate(-90 361.61 603.00)" textLength="53.50" lengthAdjust="spacingAndGlyphs" style="stroke-width:0.26px">% Viable cells</text>
</g>
<rect x="0.5" y="0.5" width="519" height="706" fill="none" stroke="#161616" stroke-width="1.05"/>
</svg></body></html>
